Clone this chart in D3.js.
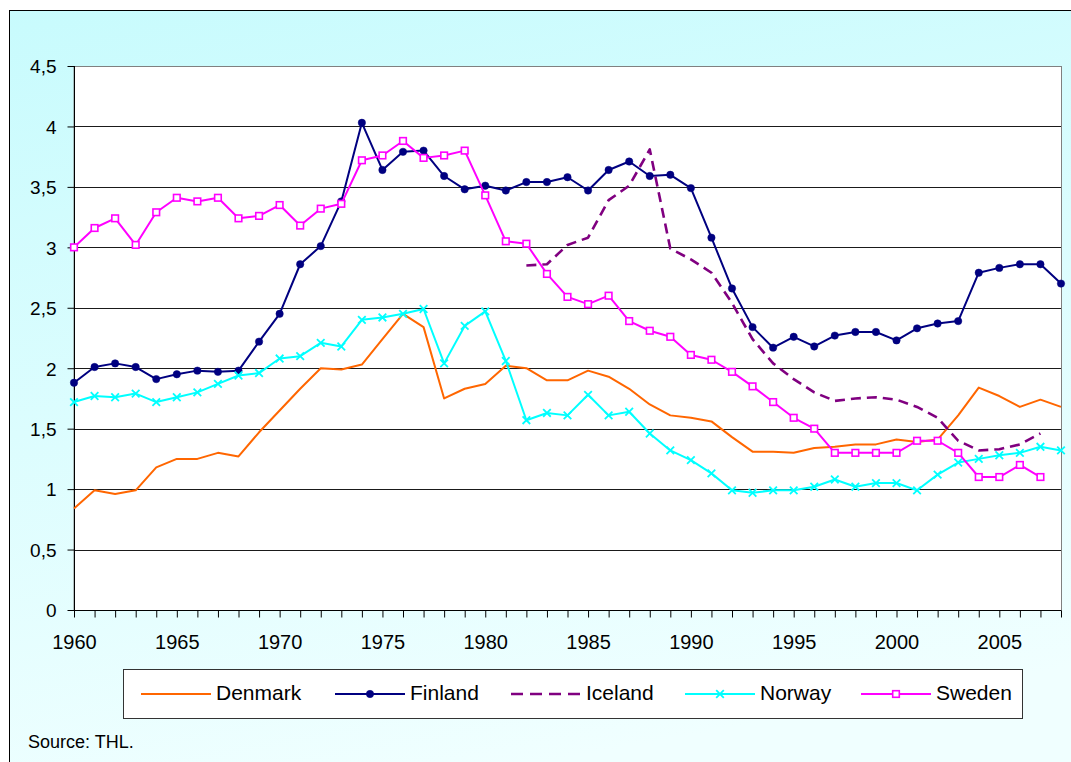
<!DOCTYPE html>
<html>
<head>
<meta charset="utf-8">
<script src="https://cdn.jsdelivr.net/npm/d3@7"></script>
<style>
  html, body { margin: 0; padding: 0; background: #ffffff; }
  svg { display: block; }
  text { font-family: Arial, "Liberation Sans", sans-serif; fill: #000; }
</style>
</head>
<body>
<svg id="chart" width="1071" height="762"></svg>
<script>
const years = [1960,1961,1962,1963,1964,1965,1966,1967,1968,1969,
               1970,1971,1972,1973,1974,1975,1976,1977,1978,1979,
               1980,1981,1982,1983,1984,1985,1986,1987,1988,1989,
               1990,1991,1992,1993,1994,1995,1996,1997,1998,1999,
               2000,2001,2002,2003,2004,2005,2006,2007,2008];

const denmark = [0.84,0.99,0.96,0.99,1.18,1.25,1.25,1.30,1.27,1.47,
                 1.65,1.83,2.00,1.99,2.03,2.24,2.45,2.34,1.75,1.83,
                 1.87,2.02,2.00,1.90,1.90,1.98,1.93,1.83,1.70,1.61,
                 1.59,1.56,1.43,1.31,1.31,1.30,1.34,1.35,1.37,1.37,
                 1.41,1.39,1.41,1.61,1.84,1.77,1.68,1.74,1.68];

const finland = [1.88,2.01,2.04,2.01,1.91,1.95,1.98,1.97,1.98,2.22,
                 2.45,2.86,3.01,3.38,4.03,3.64,3.79,3.80,3.59,3.48,
                 3.51,3.47,3.54,3.54,3.58,3.47,3.64,3.71,3.59,3.60,
                 3.49,3.08,2.66,2.34,2.17,2.26,2.18,2.27,2.30,2.30,
                 2.23,2.33,2.37,2.39,2.79,2.83,2.86,2.86,2.70];

const iceland = [null,null,null,null,null,null,null,null,null,null,
                 null,null,null,null,null,null,null,null,null,null,
                 null,null,2.85,2.86,3.02,3.08,3.39,3.51,3.81,2.99,
                 2.90,2.79,2.54,2.24,2.04,1.91,1.80,1.73,1.75,1.76,
                 1.74,1.68,1.59,1.40,1.32,1.33,1.37,1.46,null];

const norway = [1.72,1.77,1.76,1.79,1.72,1.76,1.80,1.87,1.94,1.96,
                2.08,2.10,2.21,2.18,2.40,2.42,2.45,2.49,2.04,2.35,
                2.47,2.06,1.57,1.63,1.61,1.78,1.61,1.64,1.46,1.32,
                1.24,1.13,0.99,0.97,0.99,0.99,1.02,1.08,1.02,1.05,
                1.05,0.99,1.12,1.22,1.25,1.28,1.30,1.35,1.32];

const sweden = [3.00,3.16,3.24,3.02,3.29,3.41,3.38,3.41,3.24,3.26,
                3.35,3.18,3.32,3.36,3.72,3.76,3.88,3.74,3.76,3.80,
                3.43,3.05,3.03,2.78,2.59,2.53,2.60,2.39,2.31,2.26,
                2.11,2.07,1.97,1.85,1.72,1.59,1.50,1.30,1.30,1.30,
                1.30,1.40,1.40,1.30,1.10,1.10,1.20,1.10,null];

const yTicks = [0,0.5,1,1.5,2,2.5,3,3.5,4,4.5];
const xLabelYears = [1960,1965,1970,1975,1980,1985,1990,1995,2000,2005];
const sourceText = "Source: THL.";

const seriesList = [
  {name:"Denmark", values:denmark, color:"#FF6600", marker:"none",   dash:null,  width:2},
  {name:"Finland", values:finland, color:"#000080", marker:"circle", dash:null,  width:2},
  {name:"Iceland", values:iceland, color:"#800080", marker:"none",   dash:"10,6", width:2.6},
  {name:"Norway",  values:norway,  color:"#00FFFF", marker:"x",      dash:null,  width:2},
  {name:"Sweden",  values:sweden,  color:"#FF00FF", marker:"square", dash:null,  width:2}
];

const svg = d3.select("#chart");
const W = 1071, H = 762;
const plot = {left:74, right:1061, top:66, bottom:610};

// background gradient
const defs = svg.append("defs");
const grad = defs.append("linearGradient").attr("id","bg").attr("x1","0").attr("y1","0").attr("x2","0.25").attr("y2","1");
grad.append("stop").attr("offset","0%").attr("stop-color","#c8fbfd");
grad.append("stop").attr("offset","100%").attr("stop-color","#f0ffff");

svg.append("rect").attr("width",W).attr("height",H).attr("fill","#ffffff");
svg.append("rect").attr("x",9.5).attr("y",10.5).attr("width",1100).attr("height",800)
   .attr("fill","url(#bg)").attr("stroke","#000").attr("stroke-width",1);

const x = d3.scaleLinear().domain([1960,2008]).range([plot.left, plot.right]);
const y = d3.scaleLinear().domain([0,4.5]).range([plot.bottom, plot.top]);

// plot area
svg.append("rect").attr("x",plot.left).attr("y",plot.top+0.5)
   .attr("width",plot.right-plot.left+0.5).attr("height",plot.bottom-plot.top)
   .attr("fill","#fff").attr("stroke","#808080").attr("stroke-width",1);

// gridlines
svg.append("g").selectAll("line").data(yTicks.filter(d => d>0 && d<4.5)).join("line")
  .attr("x1",plot.left).attr("x2",plot.right)
  .attr("y1",d => Math.round(y(d))+0.5).attr("y2",d => Math.round(y(d))+0.5)
  .attr("stroke","#1a1a1a").attr("stroke-width",1);

const fmt = d => Number.isInteger(d) ? String(d) : String(d).replace(".", ",");

// y axis
const yAxis = svg.append("g").attr("transform",`translate(${plot.left+0.5},0)`)
  .call(d3.axisLeft(y).tickValues(yTicks).tickSize(7).tickPadding(11).tickFormat(fmt));
yAxis.select(".domain").attr("stroke","#000").attr("d",`M0,${plot.top}V${plot.bottom}`);
yAxis.selectAll(".tick line").attr("stroke","#000");
yAxis.selectAll(".tick text").attr("font-size","19px").attr("font-family","Arial, 'Liberation Sans', sans-serif").attr("fill","#000").attr("dy","0.36em");

// x axis
const xAxis = svg.append("g").attr("transform",`translate(0,${plot.bottom+0.5})`)
  .call(d3.axisBottom(x).tickValues(years).tickSize(7).tickFormat(d => xLabelYears.includes(d) ? String(d) : ""));
xAxis.select(".domain").attr("stroke","#000").attr("d",`M${plot.left},0H${plot.right}`);
xAxis.selectAll(".tick line").attr("stroke","#000");
xAxis.selectAll(".tick text").attr("font-size","20px").attr("font-family","Arial, 'Liberation Sans', sans-serif")
  .attr("fill","#000").attr("y",38).attr("dy","0");

// lines
const line = d3.line().defined(d => d.v !== null).x(d => x(d.year)).y(d => y(d.v));

function drawMarker(g, type, cx, cy, color) {
  if (type === "circle") {
    g.append("circle").attr("cx",cx).attr("cy",cy).attr("r",3.7).attr("fill",color).attr("stroke",color).attr("stroke-width",0.5);
  } else if (type === "square") {
    g.append("rect").attr("x",cx-3.3).attr("y",cy-3.3).attr("width",6.6).attr("height",6.6)
      .attr("fill","#fff").attr("stroke",color).attr("stroke-width",1.6);
  } else if (type === "x") {
    const s = 3.8;
    g.append("path").attr("d",`M${cx-s},${cy-s}L${cx+s},${cy+s}M${cx-s},${cy+s}L${cx+s},${cy-s}`)
      .attr("stroke",color).attr("stroke-width",1.8).attr("fill","none");
  }
}

seriesList.forEach(s => {
  const pts = years.map((yr,i) => ({year:yr, v:s.values[i]}));
  const g = svg.append("g");
  g.append("path").datum(pts).attr("d",line).attr("fill","none")
    .attr("stroke",s.color).attr("stroke-width",s.width)
    .attr("stroke-dasharray",s.dash).attr("stroke-linejoin","round");
  if (s.marker !== "none") {
    pts.filter(d => d.v !== null).forEach(d => drawMarker(g, s.marker, x(d.year), y(d.v), s.color));
  }
});

// legend
const legend = svg.append("g");
legend.append("rect").attr("x",123.5).attr("y",669.5).attr("width",899).attr("height",49)
  .attr("fill","#fff").attr("stroke","#333").attr("stroke-width",1);
const legendX = [141,335,511,685,861];
seriesList.forEach((s,i) => {
  const lx = legendX[i], ly = 694;
  legend.append("line").attr("x1",lx).attr("x2",lx+70).attr("y1",ly).attr("y2",ly)
    .attr("stroke",s.color).attr("stroke-width",s.width)
    .attr("stroke-dasharray", s.dash ? "12,7" : null);
  if (s.marker !== "none") drawMarker(legend, s.marker, lx+35, ly, s.color);
  legend.append("text").attr("x",lx+75).attr("y",700).attr("font-size","21px").text(s.name);
});

svg.append("text").attr("x",28).attr("y",748).attr("font-size","18px").text(sourceText);
</script>
</body>
</html>
